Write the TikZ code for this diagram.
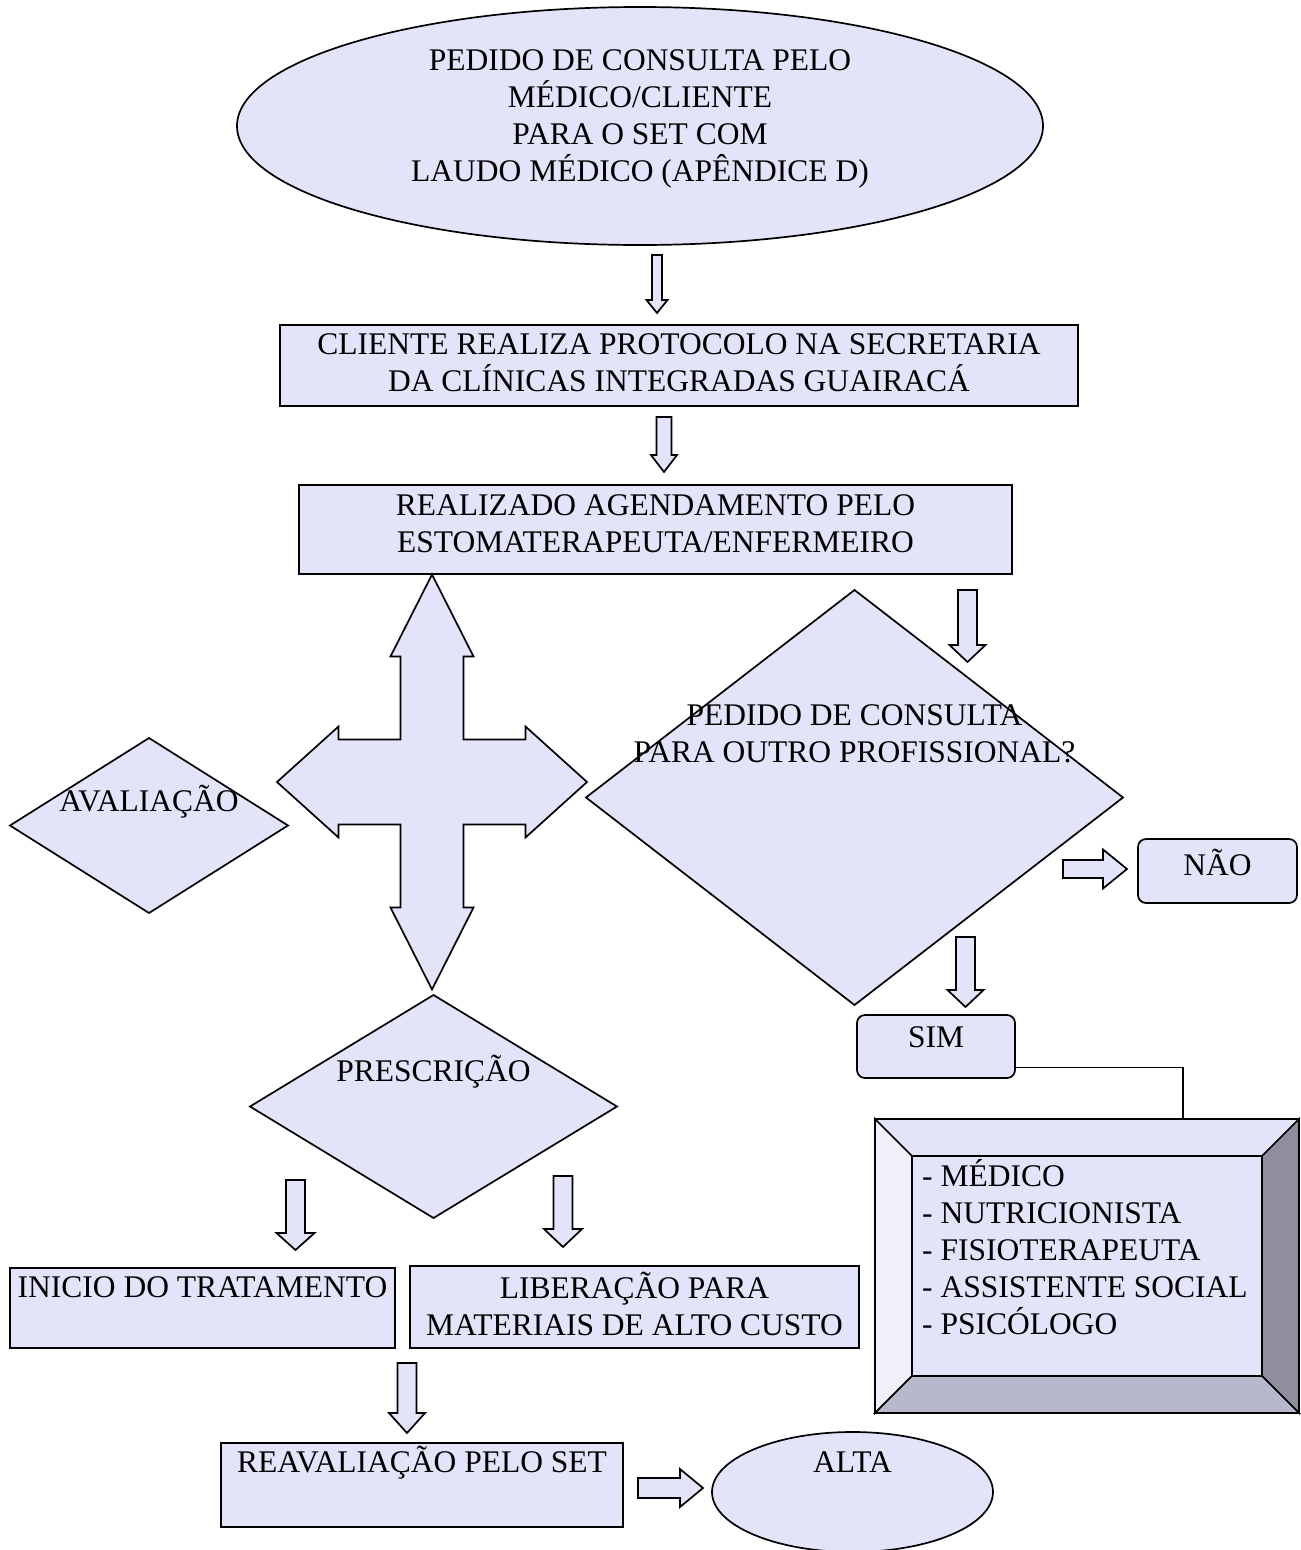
\documentclass[tikz,border=0pt]{standalone}
\usepackage{fontspec}
\setmainfont{Liberation Serif}
\usetikzlibrary{shapes.geometric}
\definecolor{lavfill}{RGB}{227,227,250}
\definecolor{bevleft}{RGB}{240,240,253}
\definecolor{bevright}{RGB}{142,142,158}
\definecolor{bevbottom}{RGB}{184,184,204}
\tikzset{
  shapefill/.style={draw=black, fill=lavfill, line width=1.7pt, line join=miter},
  box/.style={shapefill, rectangle, inner sep=0pt, outer sep=0pt},
  roundbox/.style={box, rounded corners=8pt},
  oval/.style={shapefill, ellipse, inner sep=0pt, outer sep=0pt},
  rhomb/.style={shapefill, diamond, inner sep=0pt, outer sep=0pt},
  txt/.style={align=center, inner sep=0pt},
  pics/blockarrow/.style args={#1/#2/#3/#4}{code={
    \draw[shapefill] (0,-#2) -- (#1-#4,-#2) -- (#1-#4,-#3) -- (#1,0)
      -- (#1-#4,#3) -- (#1-#4,#2) -- (0,#2) -- cycle;
  }}
}
\begin{document}
\begin{tikzpicture}[x=1pt, y=-1pt, font=\fontsize{31.5}{37}\selectfont]
  \useasboundingbox (0,0) rectangle (1301,1550);

  % main column
  \node (top) [oval, minimum width=806, minimum height=238] at (640,126) {};
  \node (top-t) [txt, yshift=7.5] at (top) {PEDIDO DE CONSULTA PELO\\MÉDICO/CLIENTE\\PARA O SET COM\\LAUDO MÉDICO (APÊNDICE D)};
  \pic [rotate=-90] at (657,255) {blockarrow=58/5/10.5/13};
  \node (protocolo) [box, minimum width=798, minimum height=81] at (679,365.5) {};
  \node (protocolo-t) [txt, yshift=2.5] at (protocolo) {CLIENTE REALIZA PROTOCOLO NA SECRETARIA\\DA CLÍNICAS INTEGRADAS GUAIRACÁ};
  \pic [rotate=-90] at (664,417) {blockarrow=55/7.5/13/17};
  \node (agenda) [box, minimum width=713, minimum height=89] at (655.5,529.5) {};
  \node (agenda-t) [txt, yshift=6] at (agenda) {REALIZADO AGENDAMENTO PELO\\ESTOMATERAPEUTA/ENFERMEIRO};

  % four way arrow
  \coordinate (hub) at (432,782);
  \draw[shapefill, shift={(hub)}] (0,-207.5) -- (41.5,-125.5) -- (31.5,-125.5) -- (31.5,-42.5)
    -- (93.5,-42.5) -- (93.5,-55.5) -- (155,0) -- (93.5,55.5) -- (93.5,42.5) -- (31.5,42.5)
    -- (31.5,125.5) -- (41.5,125.5) -- (0,207.5) -- (-41.5,125.5) -- (-31.5,125.5) -- (-31.5,42.5)
    -- (-93.5,42.5) -- (-93.5,55.5) -- (-155,0) -- (-93.5,-55.5) -- (-93.5,-42.5) -- (-31.5,-42.5)
    -- (-31.5,-125.5) -- (-41.5,-125.5) -- cycle;

  \node (avaliacao) [rhomb, minimum width=278, minimum height=175] at (149,825.5) {};
  \node (avaliacao-t) [txt, yshift=23.5] at (avaliacao) {AVALIAÇÃO};

  % question branch
  \pic [rotate=-90] at (967.5,590) {blockarrow=72/9.5/18/17};
  \node (pergunta) [rhomb, minimum width=537, minimum height=415] at (854.5,797.5) {};
  \node (pergunta-t) [txt, yshift=64] at (pergunta) {PEDIDO DE CONSULTA\\PARA OUTRO PROFISSIONAL?};
  \pic at (1063,869) {blockarrow=64/9/19.5/24};
  \node (nao) [roundbox, minimum width=159, minimum height=64] at (1217.5,871) {};
  \node (nao-t) [txt, yshift=9] at (nao) {NÃO};
  \pic [rotate=-90] at (965.5,937) {blockarrow=70/9.5/18/17};
  \node (sim) [roundbox, minimum width=158, minimum height=63] at (936,1046.5) {};
  \node (sim-t) [txt, yshift=9.5] at (sim) {SIM};

  % bevelled list
  \node (lista) [box, fill=lavfill, minimum width=424, minimum height=294] at (1087,1266) {};
  \node (lista-in) [box, minimum width=350, minimum height=220] at (lista) {};
  \filldraw[line width=1.7pt, fill=bevleft] (lista.north west) -- (lista-in.north west) -- (lista-in.south west) -- (lista.south west) -- cycle;
  \filldraw[line width=1.7pt, fill=bevright] (lista.north east) -- (lista-in.north east) -- (lista-in.south east) -- (lista.south east) -- cycle;
  \filldraw[line width=1.7pt, fill=bevbottom] (lista.south west) -- (lista-in.south west) -- (lista-in.south east) -- (lista.south east) -- cycle;
  \draw[line width=1.7pt] (lista.north west) rectangle (lista.south east);
  \node (lista-t) [txt, align=left, anchor=west] at (922,1247) {- MÉDICO\\- NUTRICIONISTA\\- FISIOTERAPEUTA\\- ASSISTENTE SOCIAL\\- PSICÓLOGO};
  \draw[line width=1.7pt] ([yshift=10.5pt]sim.south east) -| ([xshift=96pt]lista.north);

  % prescription branch
  \node (prescricao) [rhomb, minimum width=367, minimum height=223] at (433.5,1106.5) {};
  \node (prescricao-t) [txt, yshift=34.5] at (prescricao) {PRESCRIÇÃO};
  \pic [rotate=-90] at (295.5,1180) {blockarrow=70/9.5/19/17};
  \pic [rotate=-90] at (563,1176) {blockarrow=71/9.5/19/18};
  \node (inicio) [box, minimum width=385, minimum height=80] at (202.5,1308) {};
  \node (inicio-t) [txt, yshift=21] at (inicio) {INICIO DO TRATAMENTO};
  \node (liberacao) [box, minimum width=449, minimum height=82] at (634.5,1307) {};
  \node (liberacao-t) [txt, yshift=3.5] at (liberacao) {LIBERAÇÃO PARA\\MATERIAIS DE ALTO CUSTO};
  \pic [rotate=-90] at (407,1363) {blockarrow=70/9.5/18/20};
  \node (reavaliacao) [box, minimum width=402, minimum height=84] at (422,1485) {};
  \node (reavaliacao-t) [txt, yshift=22] at (reavaliacao) {REAVALIAÇÃO PELO SET};
  \pic at (638,1488) {blockarrow=65/10/19/23};
  \node (alta) [oval, minimum width=281, minimum height=120] at (852.5,1492) {};
  \node (alta-t) [txt, yshift=30] at (alta) {ALTA};
\end{tikzpicture}
\end{document}
